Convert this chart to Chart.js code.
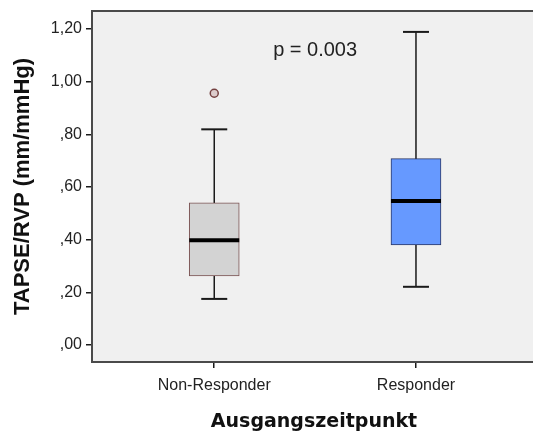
<!DOCTYPE html>
<html>
<head>
<meta charset="utf-8">
<script src="https://cdn.jsdelivr.net/npm/chart.js@4.4.1/dist/chart.umd.min.js"></script>
<style>
  html, body { margin: 0; padding: 0; background: #fff; overflow: hidden; }
  canvas { display: block; }
</style>
</head>
<body>
<canvas id="chart" width="536" height="435"></canvas>
<script>
// ===== data =====
const groups      = ['Non-Responder', 'Responder'];
const groupPos    = [1, 2];
const whiskerLow  = [0.175, 0.221];
const q1          = [0.262, 0.380];
const median      = [0.398, 0.547];
const q3          = [0.540, 0.708];
const whiskerHigh = [0.819, 1.189];
const outlierGroup = [1];
const outlierValue = [0.956];
const yTicks      = [0, 0.2, 0.4, 0.6, 0.8, 1.0, 1.2];
const pLabel      = 'p = 0.003';

const BOX_FILL   = ['#d3d3d3', '#6699ff'];
const BOX_BORDER = ['#7a5252', '#2b3766'];
const INK = '#1a1a1a';
const SANS = "'Liberation Sans', Arial, sans-serif";

// German SPSS style: 0.40 -> ",40", 1.20 -> "1,20"
function fmtTick(v) {
  const s = v.toFixed(2).replace('.', ',');
  return s.startsWith('0') ? s.slice(1) : s;
}

const plotFrame = {
  id: 'plotFrame',
  beforeDraw(chart) {
    const { ctx, chartArea: a } = chart;
    ctx.save();
    ctx.fillStyle = '#f0f0f0';
    ctx.fillRect(a.left, a.top, a.right - a.left, a.bottom - a.top);
    ctx.restore();
  },
  afterDraw(chart) {
    const { ctx, chartArea: a, scales } = chart;
    ctx.save();
    ctx.strokeStyle = '#4a4a4a';
    ctx.lineWidth = 2;
    ctx.strokeRect(a.left, a.top, a.right - a.left, a.bottom - a.top);
    // p-value annotation, placed in data coordinates
    ctx.fillStyle = '#222';
    ctx.font = "20px " + SANS;
    ctx.textAlign = 'center';
    ctx.textBaseline = 'alphabetic';
    ctx.fillText(pLabel, scales.x.getPixelForValue(1.5), scales.y.getPixelForValue(1.098));
    ctx.restore();
  }
};

const datasets = [
  {
    // whisker stems (behind the boxes)
    type: 'line', order: 4,
    data: groupPos.flatMap((x, i) => [{ x, y: whiskerLow[i] }, { x, y: whiskerHigh[i] }, { x, y: null }]),
    borderColor: INK, borderWidth: 1.5, pointRadius: 0, spanGaps: false
  },
  {
    // boxes q1..q3
    type: 'bar', order: 3,
    data: groupPos.map((x, i) => ({ x, y: [q1[i], q3[i]] })),
    backgroundColor: BOX_FILL, borderColor: BOX_BORDER, borderWidth: 1,
    borderSkipped: false, barThickness: 50, grouped: false
  },
  {
    // medians
    type: 'line', order: 2, showLine: false,
    data: groupPos.map((x, i) => ({ x, y: median[i] })),
    pointStyle: 'line', pointRadius: 25, pointBorderWidth: 4, pointBorderColor: '#000'
  },
  {
    // whisker caps
    type: 'line', order: 1, showLine: false,
    data: groupPos.flatMap((x, i) => [{ x, y: whiskerLow[i] }, { x, y: whiskerHigh[i] }]),
    pointStyle: 'line', pointRadius: 13, pointBorderWidth: 2, pointBorderColor: INK
  },
  {
    // outliers
    type: 'line', order: 0, showLine: false,
    data: outlierGroup.map((x, i) => ({ x, y: outlierValue[i] })),
    pointStyle: 'circle', pointRadius: 4, pointBorderWidth: 1.5,
    pointBorderColor: '#744040', pointBackgroundColor: '#dccccc'
  }
];

new Chart(document.getElementById('chart'), {
  type: 'bar',
  data: { datasets },
  plugins: [plotFrame],
  options: {
    responsive: false,
    animation: false,
    events: [],
    layout: { autoPadding: false, padding: { top: 11, right: 0, bottom: 0, left: 0 } },
    plugins: { legend: { display: false }, tooltip: { enabled: false } },
    scales: {
      x: {
        type: 'linear', min: 0.394, max: 2.595, offset: false,
        afterBuildTicks: s => { s.ticks = groupPos.map(v => ({ value: v })); },
        afterFit: s => { s.height = 73; s.paddingLeft = 0; s.paddingRight = 0; },
        grid: { offset: false, drawOnChartArea: false, tickLength: 6, color: INK, lineWidth: 1.5 },
        border: { display: false },
        ticks: {
          padding: 8, color: '#222', font: { family: SANS, size: 16 },
          callback: v => groups[groupPos.indexOf(v)] ?? ''
        },
        title: {
          display: true, text: 'Ausgangszeitpunkt', color: '#111',
          font: { family: "'DejaVu Sans', Verdana, sans-serif", size: 19, weight: 'bold' },
          padding: { top: 0, bottom: 2 }
        }
      },
      y: {
        type: 'linear', min: -0.0646, max: 1.2684,
        afterBuildTicks: s => { s.ticks = yTicks.map(v => ({ value: v })); },
        afterFit: s => { s.width = 92; s.paddingTop = 0; s.paddingBottom = 0; },
        grid: { drawOnChartArea: false, tickLength: 6, color: INK, lineWidth: 1.5 },
        border: { display: false },
        ticks: {
          padding: 4, color: '#222', font: { family: SANS, size: 16 },
          callback: v => fmtTick(v)
        },
        title: {
          display: true, text: 'TAPSE/RVP (mm/mmHg)', color: '#111',
          font: { family: SANS, size: 22, weight: 'bold' },
          padding: { top: 10, bottom: 0 }
        }
      }
    }
  }
});
</script>
</body>
</html>
